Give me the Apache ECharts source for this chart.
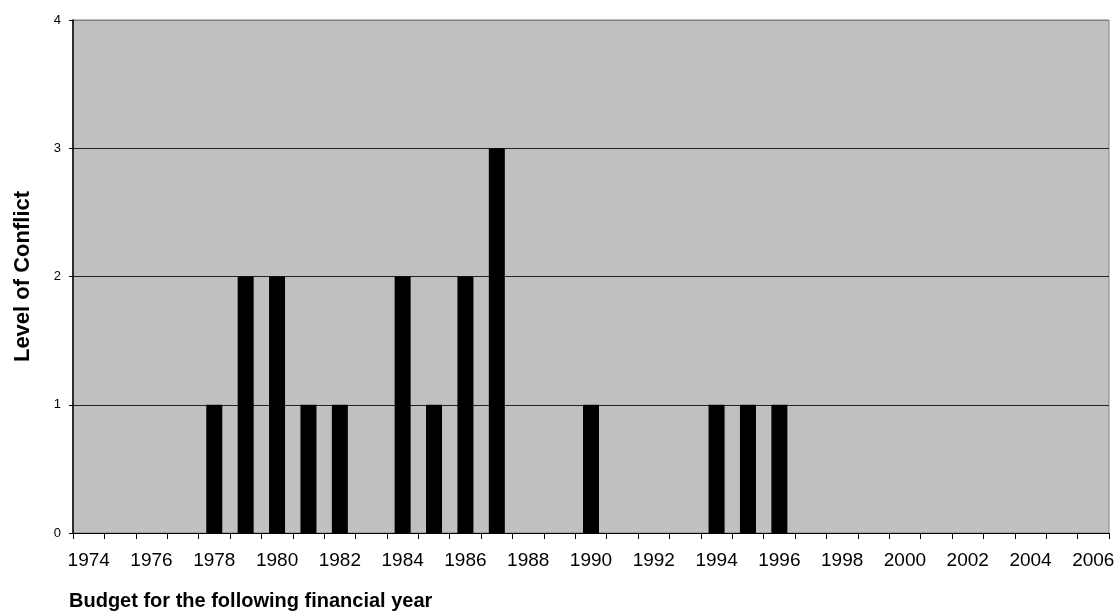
<!DOCTYPE html>
<html>
<head>
<meta charset="utf-8">
<script src="https://cdn.jsdelivr.net/npm/echarts@6/dist/echarts.min.js"></script>
<style>
  html, body { margin: 0; padding: 0; background: #fff; }
  #chart { width: 1118px; height: 612px; }
</style>
</head>
<body>
<div id="chart"></div>
<script>
// years on the x axis
const years = [];
for (let y = 1974; y <= 2006; y++) years.push(String(y));

// level of conflict per year, only non-zero years listed
const conflictYears = ["1978", "1979", "1980", "1981", "1982", "1984", "1985", "1986", "1987", "1990", "1994", "1995", "1996"];
const conflictLevels = [1, 2, 2, 1, 1, 2, 1, 2, 3, 1, 1, 1, 1];

const levelTicks = [0, 1, 2, 3, 4];

const values = years.map(function (y) {
  const i = conflictYears.indexOf(y);
  return i >= 0 ? conflictLevels[i] : 0;
});

const myChart = echarts.init(document.getElementById("chart"));
const option = {
  backgroundColor: "#ffffff",
  animation: false,
  title: {
    text: "Budget for the following financial year",
    left: 69,
    top: 591,
    padding: 0,
    textStyle: {
      fontFamily: "Liberation Sans, Arial",
      fontWeight: "bold",
      fontSize: 20,
      color: "#000",
    },
  },
  grid: {
    left: 73,
    right: 9,
    top: 20,
    bottom: 79,
    show: true,
    backgroundColor: "#c0c0c0",
    borderColor: "#808080",
    borderWidth: 1,
  },
  xAxis: {
    type: "category",
    data: years,
    boundaryGap: true,
    axisLine: { lineStyle: { color: "#000", width: 1 } },
    axisTick: { show: true, interval: 0, length: 6, lineStyle: { color: "#000" } },
    axisLabel: {
      interval: 1,
      color: "#000",
      fontFamily: "Liberation Sans, Arial",
      fontSize: 19,
      margin: 18,
    },
  },
  yAxis: {
    type: "value",
    min: levelTicks[0],
    max: levelTicks[levelTicks.length - 1],
    interval: 1,
    name: "Level of Conflict",
    nameLocation: "middle",
    nameGap: 39,
    nameTextStyle: {
      fontFamily: "Liberation Sans, Arial",
      fontWeight: "bold",
      fontSize: 22,
      color: "#000",
    },
    axisLine: { show: true, lineStyle: { color: "#000", width: 1.5 } },
    axisTick: { show: true, length: 4, lineStyle: { color: "#000" } },
    axisLabel: {
      color: "#000",
      fontFamily: "Liberation Sans, Arial",
      fontSize: 13,
      margin: 12,
    },
    splitLine: {
      show: true,
      lineStyle: { color: ["#000", "#222", "#222", "#222", "#808080"], width: 1 },
    },
  },
  series: [
    {
      name: "Level of Conflict",
      type: "bar",
      data: values,
      barWidth: "51%",
      itemStyle: { color: "#000" },
    },
  ],
};
myChart.setOption(option);
</script>
</body>
</html>
